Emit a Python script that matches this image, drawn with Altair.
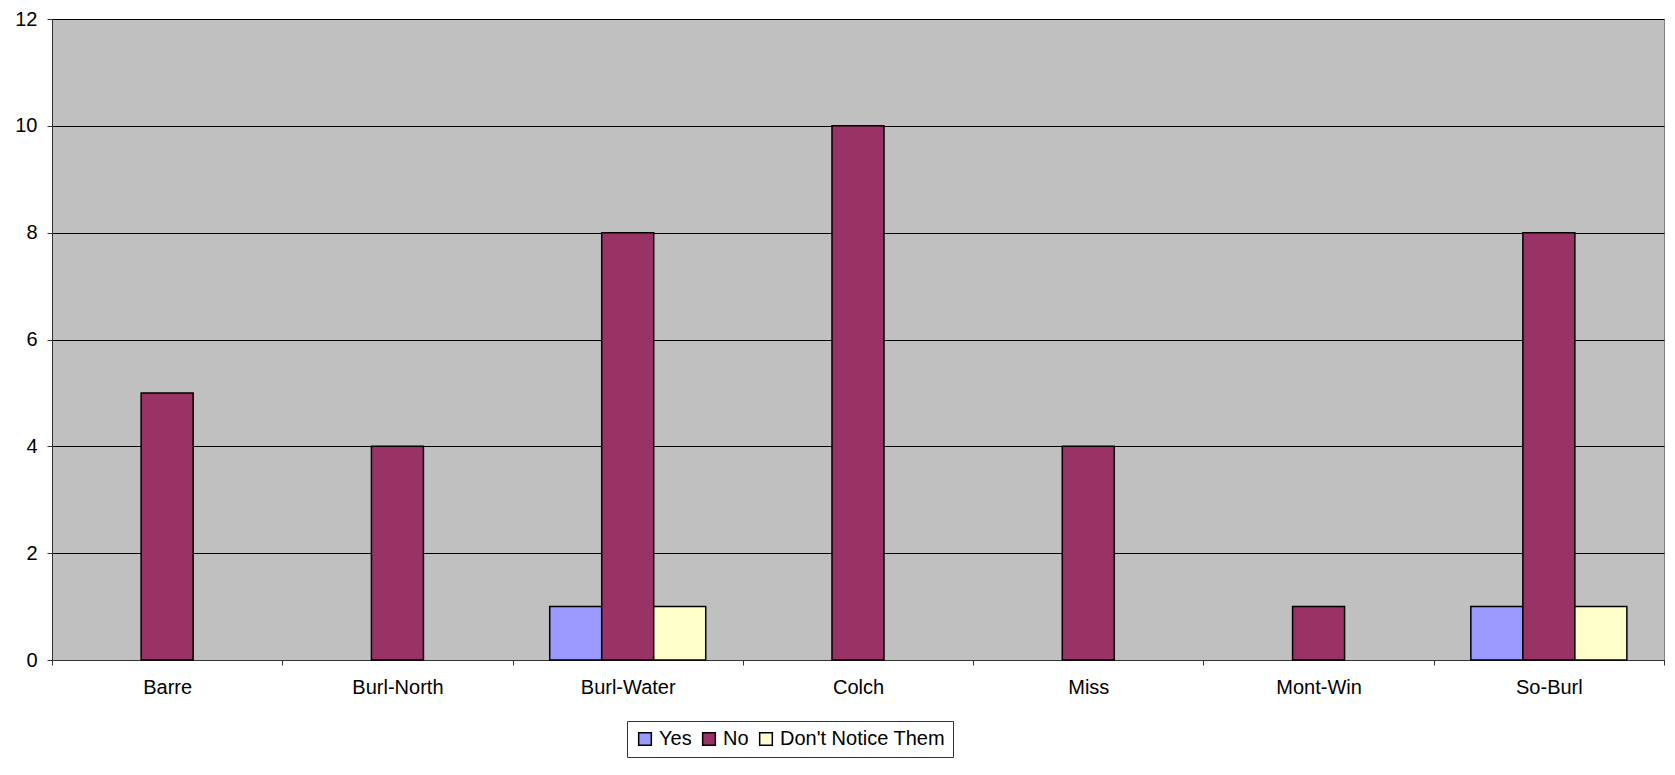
import altair as alt
import pandas as pd

sites = ["Barre", "Burl-North", "Burl-Water", "Colch", "Miss", "Mont-Win", "So-Burl"]
series = ["Yes", "No", "Don't Notice Them"]
yes_vals = [0, 0, 1, 0, 0, 0, 1]
no_vals = [5, 4, 8, 10, 4, 1, 8]
dont_vals = [0, 0, 1, 0, 0, 0, 1]
colors = ["#9999FF", "#993366", "#FFFFCC"]
y_ticks = [0, 2, 4, 6, 8, 10, 12]

rows = []
for name, vals in zip(series, [yes_vals, no_vals, dont_vals]):
    for s, v in zip(sites, vals):
        rows.append({"site": s, "series": name, "value": v})
df = pd.DataFrame(rows)

FONT = "Liberation Sans"

chart = (
    alt.Chart(df)
    .transform_filter("datum.value > 0")
    .mark_bar(stroke="black", strokeWidth=1.5)
    .encode(
        x=alt.X(
            "site:N",
            sort=sites,
            scale=alt.Scale(domain=sites, paddingInner=0, paddingOuter=0),
            axis=alt.Axis(
                title=None,
                labelAngle=0,
                tickBand="extent",
                grid=False,
                tickSize=5,
                labelPadding=12,
                labelFontSize=20,
                labelFont=FONT,
                labelColor="black",
                domainColor="#333333",
                tickColor="#333333",
            ),
        ),
        xOffset=alt.XOffset(
            "series:N",
            sort=series,
            scale=alt.Scale(domain=series, paddingInner=0, paddingOuter=0.714),
        ),
        y=alt.Y(
            "value:Q",
            scale=alt.Scale(domain=[0, 12], nice=False),
            axis=alt.Axis(
                title=None,
                values=y_ticks,
                grid=True,
                gridColor="black",
                gridWidth=1,
                gridOpacity=1,
                tickSize=5,
                labelPadding=10,
                labelFontSize=20,
                labelFont=FONT,
                labelColor="black",
                domainColor="#333333",
                tickColor="#333333",
            ),
        ),
        color=alt.Color(
            "series:N",
            sort=series,
            scale=alt.Scale(domain=series, range=colors),
            legend=alt.Legend(
                title=None,
                orient="none",
                legendX=575,
                legendY=702,
                direction="horizontal",
                symbolType="square",
                symbolSize=160,
                symbolStrokeColor="black",
                symbolStrokeWidth=1.5,
                symbolOpacity=1,
                labelFontSize=20,
                labelFont=FONT,
                labelColor="black",
                labelLimit=400,
                labelOffset=4,
                columnPadding=7,
                padding=8,
                strokeColor="#333333",
                fillColor="white",
            ),
        ),
    )
    .properties(
        width=1612,
        height=641,
        padding={"left": 44, "top": 11, "right": 3, "bottom": 107},
        autosize=alt.AutoSizeParams(type="none"),
        background="white",
    )
    .configure_view(fill="#C0C0C0", stroke="#808080", strokeWidth=1)
)

chart.save("out.html", embed_options={"renderer": "svg", "actions": False})
